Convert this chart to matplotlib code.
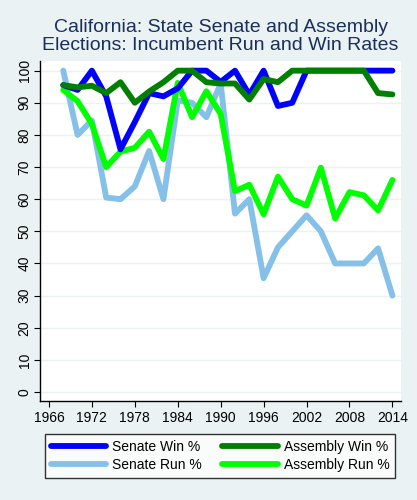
import numpy as np
import matplotlib
matplotlib.use("Agg")
import matplotlib.pyplot as plt

plt.rcParams['font.family'] = ['Liberation Sans', 'DejaVu Sans']

years = list(range(1968, 2016, 2))
senate_win = [95.5, 94, 100, 92, 75.5, 84, 93, 92, 94.5, 100, 100, 96.5,
              100, 92.5, 100, 89, 90, 100, 100, 100, 100, 100, 100, 100]
assembly_win = [95.5, 94.8, 95.3, 93, 96.4, 90, 93.5, 96.4, 100, 100, 96.4, 96,
                96, 91, 97.4, 96.4, 100, 100, 100, 100, 100, 100, 93, 92.6]
senate_run = [100, 80, 84.5, 60.5, 60, 64, 75, 60, 90.7, 90, 85.5, 96,
              55.5, 60, 35.4, 45, 50, 55, 50, 40, 40, 40, 44.7, 30]
assembly_run = [94, 90.5, 83.4, 70, 74.8, 76, 81, 72.5, 96.2, 85.5, 93.6, 86.5,
                62.5, 64.5, 55.3, 67, 60, 58, 69.8, 54, 62.2, 61.2, 56.5, 66]

bg = '#eaf2f3'
title_col = '#1a2f5a'

fig = plt.figure(figsize=(4.17, 5.0), dpi=100, facecolor=bg)
ax = fig.add_axes([40/417, 1 - 401/500, 361/417, 340/500])
ax.set_facecolor('white')

lw = 4.2
ax.plot(years, senate_run, color='#85c0e8', lw=lw, solid_capstyle='round', label='Senate Run %')
ax.plot(years, assembly_run, color='#00ff00', lw=lw, solid_capstyle='round', label='Assembly Run %')
ax.plot(years, senate_win, color='#0000ff', lw=lw, solid_capstyle='round', label='Senate Win %')
ax.plot(years, assembly_win, color='#007f00', lw=lw, solid_capstyle='round', label='Assembly Win %')

ax.set_xlim(1964.75, 2015.2)
ax.set_ylim(-2.8, 103)
ax.set_xticks(range(1966, 2015, 6))
ax.set_yticks(range(0, 101, 10))
ax.tick_params(axis='y', labelrotation=90, labelsize=10, length=4, color='black', pad=2)
ax.tick_params(axis='x', labelsize=10, length=4, color='black', pad=3)
for lab in ax.get_yticklabels():
    lab.set_verticalalignment('center')
ax.grid(axis='y', color=bg, lw=1)
ax.set_axisbelow(True)
for s in ['top', 'right']:
    ax.spines[s].set_visible(False)
ax.spines['left'].set_linewidth(1)
ax.spines['bottom'].set_linewidth(1)

cx = 220.5 / 417
fig.text(cx, 1 - 27/500, 'California: State Senate and Assembly', ha='center', va='center',
         fontsize=14, color=title_col)
fig.text(cx, 1 - 46/500, 'Elections: Incumbent Run and Win Rates', ha='center', va='center',
         fontsize=14, color=title_col)

h, l = ax.get_legend_handles_labels()
order = [2, 0, 3, 1]
leg = fig.legend([h[i] for i in order], [l[i] for i in order], ncol=2,
                 loc='center', bbox_to_anchor=(220/417, 1 - 456/500),
                 frameon=True, fancybox=False, edgecolor='black', fontsize=10,
                 handlelength=4, columnspacing=1.5, handletextpad=0.4,
                 borderpad=0.4, labelspacing=0.3)
leg.get_frame().set_linewidth(1)

fig.savefig('out.png', dpi=100, facecolor=bg)
